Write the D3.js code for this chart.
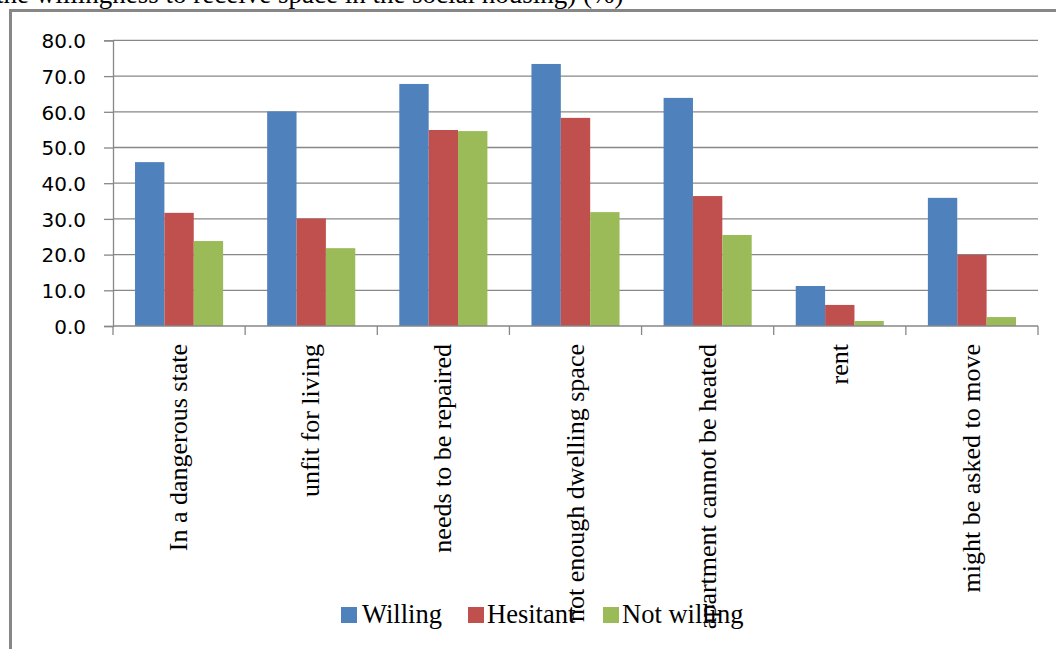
<!DOCTYPE html>
<html>
<head>
<meta charset="utf-8">
<script src="https://cdn.jsdelivr.net/npm/d3@7"></script>
<style>
  html, body { margin: 0; padding: 0; background: #fff; }
  svg { display: block; }
</style>
</head>
<body>
<svg id="chart" width="1056" height="649"></svg>
<script>
// Reasons given, by willingness to receive space in social housing (%)
const categories = [
  "In a dangerous state",
  "unfit for living",
  "needs to be repaired",
  "not enough dwelling space",
  "apartment cannot be heated",
  "rent",
  "might be asked to move"
];
const seriesNames = ["Willing", "Hesitant", "Not willing"];
const willing    = [45.9, 60.1, 67.8, 73.4, 63.9, 11.2, 35.9];
const hesitant   = [31.7, 30.1, 54.9, 58.3, 36.4, 5.9, 19.9];
const notWilling = [23.8, 21.8, 54.6, 31.9, 25.5, 1.4, 2.5];
const yTicks = [0, 10, 20, 30, 40, 50, 60, 70, 80];
const colors = ["#4F81BD", "#C0504D", "#9BBB59"];

const values = [willing, hesitant, notWilling];
const rows = categories.map((c, i) => ({
  category: c,
  vals: seriesNames.map((s, k) => ({ series: s, k, value: values[k][i] }))
}));

const svg = d3.select("#chart");
const gridColor = "#878787";

// caption line above the frame (runs off the top of the page)
svg.append("text")
  .attr("x", -4).attr("y", 3)
  .attr("font-family", "'Liberation Serif', 'Times New Roman', serif")
  .attr("font-size", 27)
  .attr("fill", "#000")
  .text("the willingness to receive space in the social housing) (%)");

// chart frame (left and top edges)
svg.append("path")
  .attr("d", "M10.5,649 L10.5,10.5 L1056,10.5")
  .attr("fill", "none")
  .attr("stroke", gridColor)
  .attr("stroke-width", 3);

const plot = { left: 113, right: 1038, top: 40.4, bottom: 326 };

const y = d3.scaleLinear().domain([0, 80]).range([plot.bottom, plot.top]);
const x0 = d3.scaleBand().domain(categories)
  .range([plot.left, plot.right])
  .paddingInner(1 / 3).paddingOuter(1 / 6);
const x1 = d3.scaleBand().domain(seriesNames).range([0, x0.bandwidth()]);
const step = x0.step();

// horizontal gridlines
svg.append("g").selectAll("line")
  .data(yTicks.filter(t => t > 0))
  .join("line")
  .attr("x1", plot.left).attr("x2", plot.right)
  .attr("y1", d => y(d)).attr("y2", d => y(d))
  .attr("stroke", gridColor).attr("stroke-width", 1.3);

// bars
svg.append("g").selectAll("g")
  .data(rows)
  .join("g")
  .attr("transform", d => `translate(${x0(d.category)},0)`)
  .selectAll("rect")
  .data(d => d.vals)
  .join("rect")
  .attr("x", d => x1(d.series))
  .attr("width", x1.bandwidth())
  .attr("y", d => y(d.value))
  .attr("height", d => y(0) - y(d.value))
  .attr("fill", d => colors[d.k]);

// y axis
const yAxis = d3.axisLeft(y).tickValues(yTicks).tickSize(9).tickPadding(18)
  .tickFormat(d3.format(".1f"));
const gy = svg.append("g").attr("transform", `translate(${plot.left},0)`).call(yAxis);
gy.select(".domain").attr("stroke", gridColor).attr("stroke-width", 1.3);
gy.selectAll(".tick line").attr("stroke", gridColor).attr("stroke-width", 1.3);
gy.selectAll(".tick text")
  .attr("font-family", "'DejaVu Sans', sans-serif")
  .attr("font-size", 20)
  .attr("fill", "#000")
  .attr("dy", "0.36em");

// x baseline and category divider ticks
svg.append("line")
  .attr("x1", plot.left).attr("x2", plot.right)
  .attr("y1", y(0)).attr("y2", y(0))
  .attr("stroke", gridColor).attr("stroke-width", 1.3);
const dividers = d3.range(categories.length + 1).map(i => plot.left + i * step);
svg.append("g").selectAll("line")
  .data(dividers)
  .join("line")
  .attr("x1", d => d).attr("x2", d => d)
  .attr("y1", y(0)).attr("y2", y(0) + 9)
  .attr("stroke", gridColor).attr("stroke-width", 1.3);

// legend
const legendItems = [
  { name: "Willing", sx: 341, tx: 362 },
  { name: "Hesitant", sx: 468, tx: 487 },
  { name: "Not willing", sx: 603, tx: 622 }
];
const lg = svg.append("g");
lg.selectAll("rect")
  .data(legendItems)
  .join("rect")
  .attr("x", d => d.sx).attr("y", 607)
  .attr("width", 16).attr("height", 16)
  .attr("fill", (d, i) => colors[i]);
lg.selectAll("text")
  .data(legendItems)
  .join("text")
  .attr("x", d => d.tx).attr("y", 623)
  .attr("font-family", "'Liberation Serif', 'Times New Roman', serif")
  .attr("font-size", 26.5)
  .attr("fill", "#000")
  .text(d => d.name);

// rotated category labels
svg.append("g").selectAll("text")
  .data(categories)
  .join("text")
  .attr("transform", d => `translate(${x0(d) + x0.bandwidth() / 2 + 8},344) rotate(-90)`)
  .attr("text-anchor", "end")
  .attr("font-family", "'Liberation Serif', 'Times New Roman', serif")
  .attr("font-size", 26)
  .attr("fill", "#000")
  .text(d => d);
</script>
</body>
</html>
